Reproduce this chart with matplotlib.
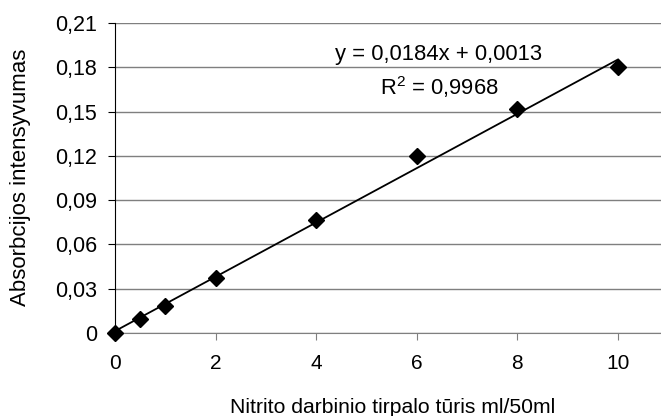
import numpy as np
import matplotlib
matplotlib.use("Agg")
import matplotlib.pyplot as plt
from matplotlib.ticker import FuncFormatter, MultipleLocator

plt.rcParams['font.family'] = ['Liberation Sans', 'DejaVu Sans']
plt.rcParams['mathtext.fontset'] = 'custom'
plt.rcParams['mathtext.rm'] = 'Liberation Sans'

# nitrite calibration points
volume = [0, 0.5, 1, 2, 4, 6, 8, 10]
absorbance = [0.0, 0.0095, 0.018, 0.0375, 0.0765, 0.12, 0.152, 0.18]

# linear trendline as reported
slope = 0.0184
intercept = 0.0013
r2 = 0.9968

fig = plt.figure(figsize=(6.61, 4.16), dpi=100)
ax = fig.add_axes([0.174, 0.1995, 0.826, 0.7452])

xs = np.array([0, 10])
ax.plot(xs, slope * xs + intercept, color='black', lw=1.3, zorder=3)
ax.plot(volume, absorbance, linestyle='none', marker='D', ms=8,
        color='black', clip_on=False, zorder=4)

ax.set_xlim(0, 10.855)
ax.set_ylim(0, 0.21)
ax.set_xticks([0, 2, 4, 6, 8, 10])
ax.yaxis.set_major_locator(MultipleLocator(0.03))

def comma(v, pos):
    if abs(v) < 1e-9:
        return "0"
    return f"{v:.2f}".replace('.', ',')

ax.yaxis.set_major_formatter(FuncFormatter(comma))
ax.grid(axis='y', color='#7f7f7f', lw=1.0)
ax.set_axisbelow(True)

for s in ['top', 'right']:
    ax.spines[s].set_visible(False)
ax.spines['left'].set_color('black')
ax.spines['bottom'].set_color('#7f7f7f')
ax.tick_params(axis='y', direction='out', length=5, colors='black', labelsize=15.5, pad=8)
ax.tick_params(axis='x', direction='out', length=5, color='#7f7f7f',
               labelcolor='black', labelsize=15, pad=10)

fig.text(393 / 661, 1 - 413 / 416, "Nitrito darbinio tirpalo tūris ml/50ml",
         ha='center', va='baseline', fontsize=15.2)
fig.text(21 / 661, 1 - 177 / 416, "Absorbcijos intensyvumas",
         ha='center', va='center', rotation=90, fontsize=16)

ax.text(6.44, 0.189, f"y = {slope:.4f}x + {intercept:.4f}".replace('.', ','),
        ha='center', va='center', fontsize=15.8)
ax.text(6.44, 0.1667, f"R$^2$ = {r2:.4f}".replace('.', ','),
        ha='center', va='center', fontsize=15.8)

fig.savefig("out.png", dpi=100)
